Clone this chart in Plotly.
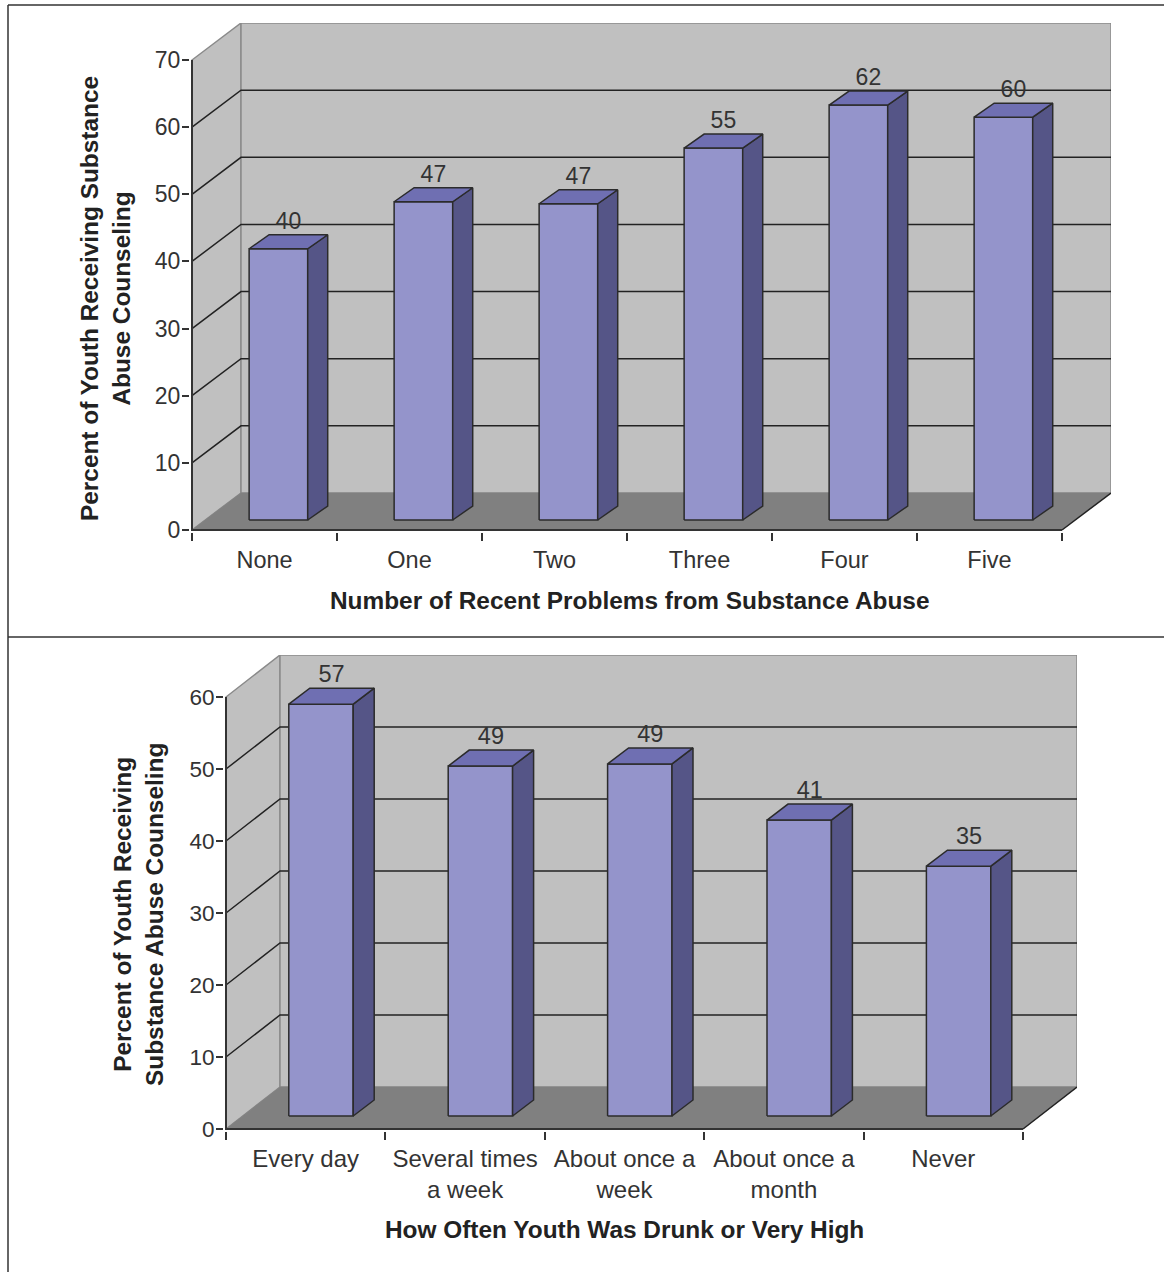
import plotly.graph_objects as go

W, H = 1164, 1272

# ---------- data ----------
cats_top = ["None", "One", "Two", "Three", "Four", "Five"]
vals_top = [40.4, 47.4, 47.1, 55.4, 61.8, 60.0]
yticks_top = [0, 10, 20, 30, 40, 50, 60, 70]

cats_bot = ["Every day", "Several times<br>a week", "About once a<br>week", "About once a<br>month", "Never"]
vals_bot = [57.2, 48.6, 48.9, 41.1, 34.7]
yticks_bot = [0, 10, 20, 30, 40, 50, 60]

title_x_top = "Number of Recent Problems from Substance Abuse"
title_y_top = "Percent of Youth Receiving Substance<br>Abuse Counseling"
title_x_bot = "How Often Youth Was Drunk or Very High"
title_y_bot = "Percent of Youth Receiving<br>Substance Abuse Counseling"

# ---------- style ----------
WALL, FLOOR = "#c0c0c0", "#808080"
FRONT, SIDE, TOP = "#9494cb", "#555587", "#6f6fb2"
INK, EDGE, GRID = "#2b2b2b", "#8a8a8a", "#222222"
AXIS = "#333333"
FONT = "Liberation Sans, Arial, sans-serif"
PAD = 2  # px of room so the front axis lines are not clipped

fig = go.Figure()
annotations = []


def poly(xs, ys, color, line_color, width, xa, ya):
    fig.add_trace(go.Scatter(
        x=xs, y=ys, mode="lines", fill="toself", fillcolor=color,
        line=dict(color=line_color, width=width), xaxis=xa, yaxis=ya,
        showlegend=False, hoverinfo="skip"))


def panel(cats, vals, yticks, xa, ya, left_px, right_px, y0_px, ytop_px, wall_px, bar_px,
          title_x, title_y, tick_font, ylab_font, lbl_font, title_font, xtitle_py, xtitle_shift, ytitle_px, yshift):
    """left/right/y0/ytop give the front plane in pixels; wall_px, bar_px are pseudo-3D depths."""
    n = len(cats)
    ymax = yticks[-1]
    px_x = (right_px - left_px) / n
    px_y = (y0_px - ytop_px) / ymax
    ddx, ddy = wall_px[0] / px_x, wall_px[1] / px_y
    # walls and floor
    poly([0, ddx, ddx, 0, 0], [0, ddy, ymax + ddy, ymax, 0], WALL, EDGE, 1.5, xa, ya)
    poly([ddx, n + ddx, n + ddx, ddx, ddx], [ddy, ddy, ymax + ddy, ymax + ddy, ddy], WALL, EDGE, 1.5, xa, ya)
    poly([0, n, n + ddx, ddx, 0], [0, 0, ddy, ddy, 0], FLOOR, FLOOR, 0.5, xa, ya)
    # gridlines on both walls, right floor edge
    gx, gy = [], []
    for v in yticks[1:-1]:
        gx += [0, ddx, n + ddx, None]
        gy += [v, v + ddy, v + ddy, None]
    gx += [n, n + ddx, None]
    gy += [0, ddy, None]
    fig.add_trace(go.Scatter(x=gx, y=gy, mode="lines", line=dict(color=GRID, width=1.5),
                             xaxis=xa, yaxis=ya, showlegend=False, hoverinfo="skip"))
    # front axis lines
    fig.add_trace(go.Scatter(x=[0, 0, n], y=[ymax, 0, 0], mode="lines", line=dict(color=AXIS, width=2),
                             xaxis=xa, yaxis=ya, showlegend=False, hoverinfo="skip"))
    # bars
    left, width = 0.394, 0.404
    base = bar_px[2] / px_y
    bx, by = bar_px[0] / px_x, bar_px[1] / px_y
    lx, ly, lt = [], [], []
    for i, v in enumerate(vals):
        x0, x1 = i + left, i + left + width
        t = base + v
        poly([x0, x1, x1, x0, x0], [base, base, t, t, base], FRONT, INK, 1.5, xa, ya)
        poly([x1, x1 + bx, x1 + bx, x1, x1], [base, base + by, t + by, t, base], SIDE, INK, 1.5, xa, ya)
        poly([x0, x1, x1 + bx, x0 + bx, x0], [t, t, t + by, t + by, t], TOP, INK, 1.5, xa, ya)
        lx.append((x0 + x1 + bx) / 2)
        ly.append(t + by)
        lt.append(str(round(v)))
    fig.add_trace(go.Scatter(x=lx, y=ly, text=lt, mode="text", textposition="top center",
                             textfont=dict(family=FONT, size=lbl_font, color=AXIS),
                             xaxis=xa, yaxis=ya, showlegend=False, hoverinfo="skip"))
    # axes: domain covers the front plane plus the receding walls
    xkey = "xaxis" + xa[1:]
    ykey = "yaxis" + ya[1:]
    fig.update_layout({
        xkey: dict(
            domain=[(left_px - PAD) / W, (right_px + wall_px[0]) / W], anchor=ya,
            range=[-PAD / px_x, n + ddx], tickmode="array", tickvals=[i + 0.5 for i in range(n)], ticktext=cats,
            ticks="", showgrid=False, zeroline=False, showline=False, ticklabelstandoff=11,
            tickfont=dict(family=FONT, size=tick_font, color=AXIS),
            minor=dict(tickmode="array", tickvals=list(range(n + 1)), ticks="outside", ticklen=8,
                       tickcolor=AXIS, tickwidth=1.5, showgrid=False)),
        ykey: dict(
            domain=[1 - (y0_px + PAD) / H, 1 - (ytop_px - wall_px[1]) / H], anchor=xa,
            range=[-PAD / px_y, ymax + ddy], tickmode="array", tickvals=yticks, ticks="outside", ticklen=7,
            tickcolor=AXIS, tickwidth=1.5, showgrid=False, zeroline=False, showline=False,
            ticklabelstandoff=-3, tickfont=dict(family=FONT, size=ylab_font, color=AXIS)),
    })
    tf = dict(family=FONT, size=title_font, color="#222222", weight=700)
    annotations.append(dict(text=title_x, xref=xa, x=n / 2, xshift=xtitle_shift, yref="paper", y=1 - xtitle_py / H,
                            xanchor="center", yanchor="middle", showarrow=False, font=tf))
    annotations.append(dict(text=title_y, xref="paper", x=ytitle_px / W, yref=ya, y=ymax / 2, yshift=yshift,
                            xanchor="center", yanchor="middle", showarrow=False, textangle=-90, font=tf))


panel(cats_top, vals_top, yticks_top, "x", "y", 192, 1062, 530, 60, (49, 37), (20, 14, 10),
      title_x_top, title_y_top, 23.5, 23, 23, 24.4, 600, 3, 105, -4)
panel(cats_bot, vals_bot, yticks_bot, "x2", "y2", 226, 1023, 1129, 697, (54, 42), (21, 16, 13),
      title_x_bot, title_y_bot, 24, 22.5, 23.5, 24.4, 1229, 0, 138, -2)

# page frame
frame = dict(type="line", xref="paper", yref="paper", line=dict(color=AXIS, width=1.5))
fig.update_layout(
    width=W, height=H, margin=dict(l=0, r=0, t=0, b=0, autoexpand=False),
    paper_bgcolor="white", plot_bgcolor="rgba(0,0,0,0)", showlegend=False,
    annotations=annotations,
    shapes=[
        dict(frame, x0=8 / W, x1=8 / W, y0=0, y1=1 - 5 / H),
        dict(frame, x0=8 / W, x1=1, y0=1 - 5 / H, y1=1 - 5 / H),
        dict(frame, x0=8 / W, x1=1, y0=1 - 637 / H, y1=1 - 637 / H),
    ],
)

fig.write_html("out.html", config=dict(displayModeBar=False),
               post_script="document.body.style.margin='0';")
